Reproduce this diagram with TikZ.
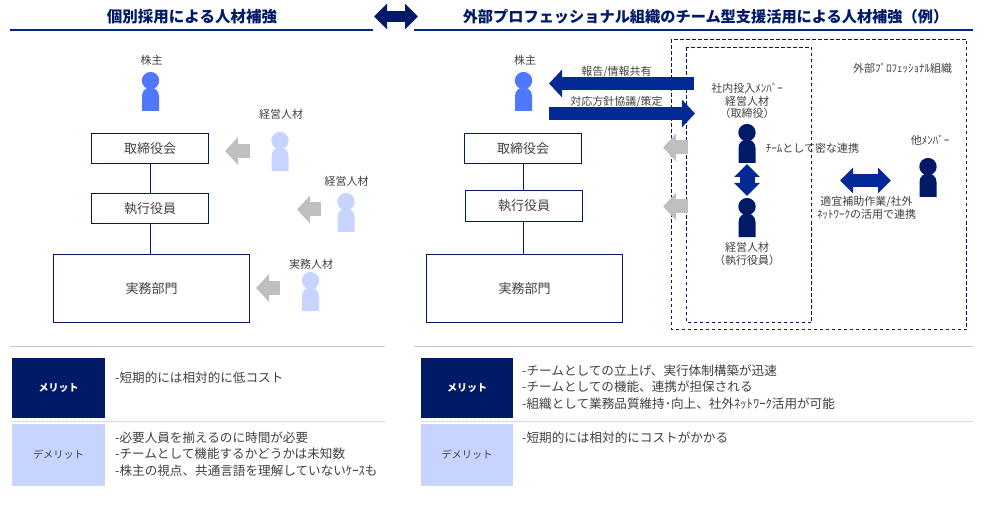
\documentclass[tikz,border=0pt]{standalone}
\usepackage{fontspec}
\setmainfont{Noto Sans CJK JP}
\definecolor{navyoscuro}{RGB}{0,26,104}
\definecolor{azulfuerte}{RGB}{3,41,150}
\definecolor{azulvivo}{RGB}{80,120,255}
\definecolor{azulclaro}{RGB}{198,212,255}
\definecolor{grisflecha}{RGB}{191,191,191}
\definecolor{grislinea}{RGB}{200,200,200}
\definecolor{gristexto}{RGB}{64,64,64}
\usetikzlibrary{arrows.meta,positioning}
\tikzset{
  person/.pic={
    \fill[#1](0,8.6)circle(8.7);
    \fill[#1](-8.5,39)--(-8.5,24)
      .. controls (-8.5,18.5) and (-4,15.3) .. (0,15.3)
      .. controls (4,15.3) and (8.5,18.5) .. (8.5,24)--(8.5,39)--cycle;
  },
  lbl/.style={font=\fontsize{11}{12.7}\selectfont,text=gristexto,inner sep=0pt,yshift=-0.5pt},
  bodytext/.style={font=\fontsize{12.6}{16.3}\selectfont,text=gristexto,inner sep=0pt,
    anchor=west,align=left},
  titletext/.style={font=\fontsize{15.5}{18}\selectfont\bfseries,text=navyoscuro,inner sep=0pt},
  orgbox/.style={draw=navyoscuro,line width=0.9pt,
    font=\fontsize{13}{15}\selectfont,text=gristexto,inner sep=0pt},
  meritbox/.style={fill=navyoscuro,text=white,font=\fontsize{10}{15}\selectfont\bfseries,inner sep=0pt},
  demeritbox/.style={fill=azulclaro,text=gristexto,font=\fontsize{10.2}{15}\selectfont,inner sep=0pt},
  grayarrow/.style={-{Triangle[width=27pt,length=13pt]},line width=14pt,grisflecha},
  bluearrow/.style={-{Triangle[width=27pt,length=13pt]},line width=13.5pt,azulfuerte},
  teamarrow/.style={{Triangle[width=25pt,length=13pt]}-{Triangle[width=25pt,length=13pt]},
    line width=13pt,azulfuerte},
  orgline/.style={navyoscuro,line width=0.9pt},
  headline/.style={line width=2pt,azulfuerte!80!navyoscuro},
  dashbox/.style={navyoscuro,line width=0.8pt,dash pattern=on 3.5pt off 2.5pt},
}
\begin{document}
\begin{tikzpicture}[x=1pt,y=-1pt]
  \useasboundingbox (0,0) rectangle (985,505);
  % encabezados
  \node[titletext] (titleL) at (192,17) {個別採用による人材補強};
  \node[titletext,font=\fontsize{15.2}{18}\selectfont\bfseries] (titleR) at (705.5,17) {外部プロフェッショナル組織のチーム型支援活用による人材補強（例）};
  \draw[headline] (10,30)--(373,30);
  \draw[headline] (414,30)--(973,30);
  \coordinate (swapL) at (374,16.5);
  \coordinate (swapR) at (418,16.5);
  \draw[{Triangle[width=25pt,length=13pt]}-{Triangle[width=25pt,length=13pt]},
    line width=11pt,navyoscuro] (swapL)--(swapR);

  % izquierda
  \node[lbl] (holderlabelL) at (151.5,60) {株主};
  \pic at (150.5,72) {person=azulvivo};
  \node[lbl] (execlabelA) at (281,114) {経営人材};
  \pic at (280,132) {person=azulclaro};
  \node[lbl] (execlabelB) at (346.5,181) {経営人材};
  \pic at (346,193) {person=azulclaro};
  \node[lbl] (worklabel) at (311,264) {実務人材};
  \pic at (310.5,272) {person=azulclaro};

  \node[orgbox,minimum width=117pt,minimum height=30pt] (boardL) at (150,148.5) {取締役会};
  \node[orgbox,minimum width=117pt,minimum height=30pt] (officerL) at (150,208.5) {執行役員};
  \node[orgbox,minimum width=196pt,minimum height=68pt] (deptL) at (151.5,288.5) {実務部門};
  \draw[orgline] (boardL)--(officerL);
  \draw[orgline] (officerL.south)--(officerL.south|-deptL.north);

  \coordinate (fromA) at (250,151);
  \coordinate (toA) at (225,151);
  \coordinate (fromB) at (321,209.5);
  \coordinate (toB) at (297,209.5);
  \coordinate (fromC) at (280,288);
  \coordinate (toC) at (256,288);
  \draw[grayarrow] (fromA)--(toA);
  \draw[grayarrow] (fromB)--(toB);
  \draw[grayarrow] (fromC)--(toC);

  % derecha
  \draw[dashbox] (671.5,39.5) rectangle (966.5,329.5);
  \draw[dashbox] (686.5,47.5) rectangle (811.5,322.5);

  \node[lbl] (holderlabelR) at (525,60) {株主};
  \pic at (523.5,72) {person=azulvivo};
  \node[orgbox,minimum width=117pt,minimum height=30pt] (boardR) at (523,148.5) {取締役会};
  \node[orgbox,minimum width=117pt,minimum height=31pt] (officerR) at (524,206) {執行役員};
  \node[orgbox,minimum width=196pt,minimum height=68pt] (deptR) at (524.5,288.5) {実務部門};
  \draw[orgline] (boardR.south)--(boardR.south|-officerR.north);
  \draw[orgline] (officerR.south-|boardR.south)--(boardR.south|-deptR.north);

  \coordinate (reportfrom) at (694,83.5);
  \coordinate (reportto) at (549,83.5);
  \coordinate (policyfrom) at (549,113.5);
  \coordinate (policyto) at (695,113.5);
  \draw[bluearrow] (reportfrom)--(reportto);
  \draw[bluearrow] (policyfrom)--(policyto);
  \node[lbl] (reportlabel) at (616.5,71) {報告/情報共有};
  \node[lbl] (policylabel) at (616.5,101.5) {対応方針協議/策定};

  \coordinate (fromD) at (688,147.5);
  \coordinate (toD) at (663,147.5);
  \coordinate (fromE) at (688,206.5);
  \coordinate (toE) at (663,206.5);
  \draw[grayarrow] (fromD)--(toD);
  \draw[grayarrow] (fromE)--(toE);

  \node[lbl,align=center] (memberlabel) at (747,100.5) {社内投入ﾒﾝﾊﾞｰ\\経営人材\\（取締役）};
  \pic at (747,124) {person=navyoscuro};
  \pic at (747,198) {person=navyoscuro};
  \node[lbl,align=center] (officerlabel) at (747,253.5) {経営人材\\（執行役員）};
  \coordinate (teamtop) at (747,164);
  \coordinate (teambottom) at (747,196);
  \draw[teamarrow,line width=15pt] (teamtop)--(teambottom);
  \node[lbl] (teamlabel) at (812.5,148) {ﾁｰﾑとして密な連携};

  \node[lbl] (extlabel) at (902.5,68) {外部ﾌﾟﾛﾌｪｯｼｮﾅﾙ組織};
  \node[lbl] (otherlabel) at (930,140) {他ﾒﾝﾊﾞｰ};
  \pic at (928,158) {person=navyoscuro};
  \coordinate (linkL) at (840,180.5);
  \coordinate (linkR) at (891,180.5);
  \draw[teamarrow] (linkL)--(linkR);
  \node[lbl,align=center] (linklabel) at (866.5,207.5) {適宜補助作業/社外\\ﾈｯﾄﾜｰｸの活用で連携};

  % メリット
  \draw[grislinea,line width=1pt] (10,346.5)--(385,346.5);
  \draw[grislinea,line width=1pt] (414,346.5)--(973,346.5);
  \draw[grislinea,line width=0.6pt,densely dotted] (13,421)--(385,421);
  \draw[grislinea,line width=0.6pt,densely dotted] (421,421)--(973,421);

  \node[meritbox,minimum width=93pt,minimum height=60pt] (meritL) at (58.5,388) {メリット};
  \node[demeritbox,minimum width=93pt,minimum height=62pt] (demeritL) at (58.5,455) {デメリット};
  \node[meritbox,minimum width=92pt,minimum height=60pt] (meritR) at (467,388) {メリット};
  \node[demeritbox,minimum width=92pt,minimum height=62pt] (demeritR) at (467,455) {デメリット};

  \node[bodytext] (merittextL) at (115,378) {-短期的には相対的に低コスト};
  \node[bodytext] (demerittextL) at (115,454)
    {-必要人員を揃えるのに時間が必要\\-チームとして機能するかどうかは未知数\\-株主の視点、共通言語を理解していないｹｰｽも};
  \node[bodytext] (merittextR) at (522,387)
    {-チームとしての立上げ、実行体制構築が迅速\\-チームとしての機能、連携が担保される\\-組織として業務品質維持･向上、社外ﾈｯﾄﾜｰｸ活用が可能};
  \node[bodytext] (demerittextR) at (522,438) {-短期的には相対的にコストがかかる};
\end{tikzpicture}
\end{document}
